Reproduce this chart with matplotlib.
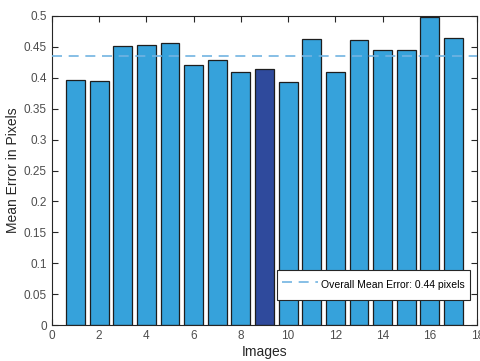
import numpy as np
import matplotlib
matplotlib.use('Agg')
import matplotlib.pyplot as plt

plt.rcParams['font.family'] = ['Liberation Sans', 'DejaVu Sans']

images = np.arange(1, 18)
errors = [0.396, 0.395, 0.451, 0.453, 0.457, 0.420, 0.428, 0.410, 0.414,
          0.394, 0.463, 0.410, 0.461, 0.445, 0.445, 0.499, 0.464]
highlight = 9
mean_error = 0.436
xticks = [0, 2, 4, 6, 8, 10, 12, 14, 16, 18]
yticks = [0, 0.05, 0.1, 0.15, 0.2, 0.25, 0.3, 0.35, 0.4, 0.45, 0.5]

fig = plt.figure(figsize=(4.8, 3.61), dpi=100)
ax = fig.add_axes([0.108, 0.0997, 0.886, 0.856])

colors = ['#2f4a9c' if i == highlight else '#36a2db' for i in images]
ax.bar(images, errors, width=0.8, color=colors, edgecolor='#1e1e1e', linewidth=0.9, zorder=2)
ax.axhline(mean_error, color='#72b4e2', linestyle=(0, (6, 4)), linewidth=1.2, zorder=3,
           label='Overall Mean Error: %.2f pixels' % mean_error)

ax.set_xlim(0, 18)
ax.set_ylim(0, 0.5)
ax.set_xticks(xticks)
ax.set_yticks(yticks)
ax.set_yticklabels(['0', '0.05', '0.1', '0.15', '0.2', '0.25', '0.3', '0.35', '0.4', '0.45', '0.5'])
ax.tick_params(direction='in', top=True, right=True, length=4, width=0.8,
               colors='#262626', labelcolor='#4d4d4d', labelsize=8.5)
for s in ax.spines.values():
    s.set_color('#262626')
    s.set_linewidth(0.8)

ax.set_xlabel('Images', fontsize=10, color='#262626', labelpad=2)
ax.set_ylabel('Mean Error in Pixels', fontsize=10, color='#262626', labelpad=3)

leg = ax.legend(loc='lower right', bbox_to_anchor=(0.983, 0.081), borderaxespad=0,
                fontsize=7.5, frameon=True, fancybox=False, edgecolor='#262626',
                framealpha=1, handlelength=3.4, handletextpad=0.3, handleheight=2.5,
                borderpad=0.5)
leg.get_frame().set_linewidth(0.8)

fig.savefig('out.png', dpi=100)
